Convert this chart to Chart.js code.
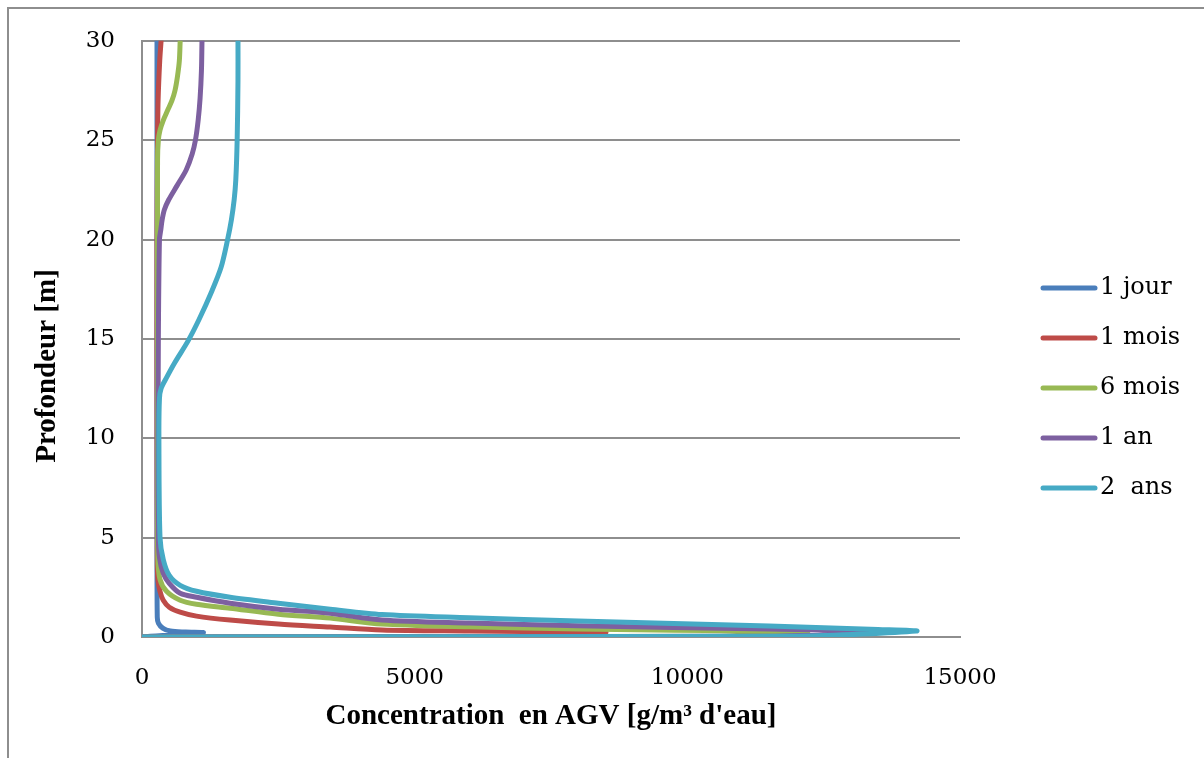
<!DOCTYPE html>
<html>
<head>
<meta charset="utf-8">
<script src="https://cdn.jsdelivr.net/npm/chart.js@4.4.1/dist/chart.umd.min.js"></script>
<style>
  html, body { margin: 0; padding: 0; background: #fff; }
  #wrap { position: relative; width: 1204px; height: 758px; overflow: hidden; }
  #frame { position: absolute; left: 7px; top: 7px; width: 1300px; height: 800px;
           border-left: 2px solid #8e8e8e; border-top: 2px solid #8e8e8e; }
  canvas { position: absolute; left: 0; top: 0; }
</style>
</head>
<body>
<div id="wrap"><div id="frame"></div><canvas id="profil" width="1204" height="758"></canvas></div>
<script>
// Concentration en AGV (g/m3) en fonction de la profondeur (m)
const SERIES_LABELS = ["1 jour", "1 mois", "6 mois", "1 an", "2  ans"];
const SERIES_COLORS = ["#4a7ebb", "#be4b48", "#98b954", "#7d60a0", "#46aac5"];

const JOUR_CONC  = [0, 1120, 800, 520, 380, 300, 280, 275, 275, 275];
const JOUR_DEPTH = [0, 0.22, 0.25, 0.3, 0.45, 0.7, 1, 5, 20, 30];

const MOIS_CONC  = [0, 7000, 8500, 8000, 6000, 4400, 3450, 2500, 1615, 1000, 700, 500, 390, 330, 290, 280, 275, 275, 285, 295, 325, 350];
const MOIS_DEPTH = [0, 0.03, 0.22, 0.25, 0.3, 0.35, 0.5, 0.65, 0.85, 1.05, 1.25, 1.5, 1.85, 2.3, 2.9, 4, 10, 20, 25, 27, 29, 30];

const SIXMOIS_CONC  = [0, 10500, 12200, 11500, 8000, 6000, 4400, 3450, 2500, 1615, 1000, 700, 450, 330, 290, 285, 285, 300, 330, 390, 470, 550, 605, 650, 685, 700];
const SIXMOIS_DEPTH = [0, 0.04, 0.28, 0.3, 0.4, 0.52, 0.65, 0.95, 1.15, 1.45, 1.65, 1.85, 2.3, 2.9, 4, 10, 24, 25, 25.5, 26, 26.5, 27, 27.5, 28.2, 29, 30];

const AN_CONC  = [0, 11500, 13600, 11500, 8000, 6000, 4400, 3450, 2500, 1615, 1000, 700, 500, 390, 320, 300, 295, 300, 320, 345, 370, 410, 490, 640, 810, 920, 980, 1030, 1065, 1090, 1100];
const AN_DEPTH = [0, 0.04, 0.3, 0.4, 0.57, 0.7, 0.85, 1.2, 1.4, 1.7, 2.0, 2.2, 2.7, 3.2, 4, 5, 10, 15, 20, 20.5, 21, 21.5, 22, 22.7, 23.5, 24.3, 25, 26, 27.1, 28.5, 30];

const DEUXANS_CONC  = [0, 12000, 14200, 13500, 11500, 8000, 6000, 4400, 3450, 2500, 1615, 1000, 700, 500, 390, 330, 310, 320, 350, 440, 600, 845, 1050, 1280, 1450, 1570, 1640, 1690, 1720, 1745, 1760, 1760];
const DEUXANS_DEPTH = [0, 0.04, 0.3, 0.38, 0.55, 0.8, 0.97, 1.13, 1.4, 1.7, 2.0, 2.3, 2.6, 3.1, 3.9, 5, 10, 12, 12.5, 13, 13.8, 14.9, 16, 17.4, 18.6, 20, 21, 22, 23, 25, 28, 30];

const X_TICKS = [0, 5000, 10000, 15000];
const Y_TICKS = [0, 5, 10, 15, 20, 25, 30];
const X_TITLE = "Concentration  en AGV [g/m\u00b3 d'eau]";
const Y_TITLE = "Profondeur [m]";

const allConc = [JOUR_CONC, MOIS_CONC, SIXMOIS_CONC, AN_CONC, DEUXANS_CONC];
const allDepth = [JOUR_DEPTH, MOIS_DEPTH, SIXMOIS_DEPTH, AN_DEPTH, DEUXANS_DEPTH];

const datasets = SERIES_LABELS.map((label, i) => ({
    label: label,
    data: allConc[i].map((c, k) => ({ x: c, y: allDepth[i][k] })),
    borderColor: SERIES_COLORS[i],
    backgroundColor: SERIES_COLORS[i],
    borderWidth: 5,
    borderCapStyle: 'round',
    borderJoinStyle: 'round',
    showLine: true,
    pointRadius: 0,
    tension: 0.3,
    fill: false,
    order: SERIES_LABELS.length - i   // 2 ans dessiné au-dessus
}));

// légende et titre vertical dessinés à la main
const extras = {
    id: 'extras',
    afterDraw(chart) {
        const ctx = chart.ctx;
        ctx.save();
        chart.data.datasets.forEach((ds, i) => {
            const y = 288 + i * 50;
            ctx.strokeStyle = ds.borderColor;
            ctx.lineWidth = 5;
            ctx.lineCap = 'round';
            ctx.beginPath();
            ctx.moveTo(1043, y);
            ctx.lineTo(1095, y);
            ctx.stroke();
            ctx.fillStyle = '#000';
            ctx.font = '24px "DejaVu Serif"';
            ctx.textBaseline = 'middle';
            ctx.textAlign = 'left';
            ctx.fillText(ds.label, 1100, y);
        });
        ctx.translate(48, 366);
        ctx.rotate(-Math.PI / 2);
        ctx.font = 'bold 29px "Liberation Serif"';
        ctx.textAlign = 'center';
        ctx.textBaseline = 'middle';
        ctx.fillStyle = '#000';
        ctx.fillText(Y_TITLE, 0, 0);
        ctx.restore();
    }
};

const ctx = document.getElementById("profil").getContext("2d");
new Chart(ctx, {
    type: 'scatter',
    data: { datasets: datasets },
    plugins: [extras],
    options: {
        responsive: false,
        animation: false,
        events: [],
        layout: { padding: { top: 40, right: 244, left: 0, bottom: 0 } },
        plugins: { legend: { display: false }, tooltip: { enabled: false } },
        scales: {
            x: {
                type: 'linear',
                min: 0, max: 15000,
                afterBuildTicks: s => { s.ticks = X_TICKS.map(v => ({ value: v })); },
                afterFit: s => { s.height = 121; },
                grid: { display: false, drawTicks: false },
                border: { display: true, color: '#8e8e8e', width: 2 },
                ticks: { color: '#000', padding: 27, maxRotation: 0,
                         callback: v => String(v),
                         font: { family: 'DejaVu Serif', size: 23 } },
                title: { display: true, text: X_TITLE, color: '#000',
                         padding: { top: 0, bottom: 24 },
                         font: { family: 'Liberation Serif', size: 29, weight: 'bold' } }
            },
            y: {
                type: 'linear',
                min: 0, max: 30,
                afterBuildTicks: s => { s.ticks = Y_TICKS.map(v => ({ value: v })); },
                afterFit: s => { s.width = 142; },
                grid: { color: '#8e8e8e', lineWidth: 2, drawTicks: false },
                border: { display: true, color: '#8e8e8e', width: 2 },
                ticks: { color: '#000', padding: 27,
                         callback: v => String(v),
                         font: { family: 'DejaVu Serif', size: 23 } },
                title: { display: false }
            }
        }
    }
});
</script>
</body>
</html>
